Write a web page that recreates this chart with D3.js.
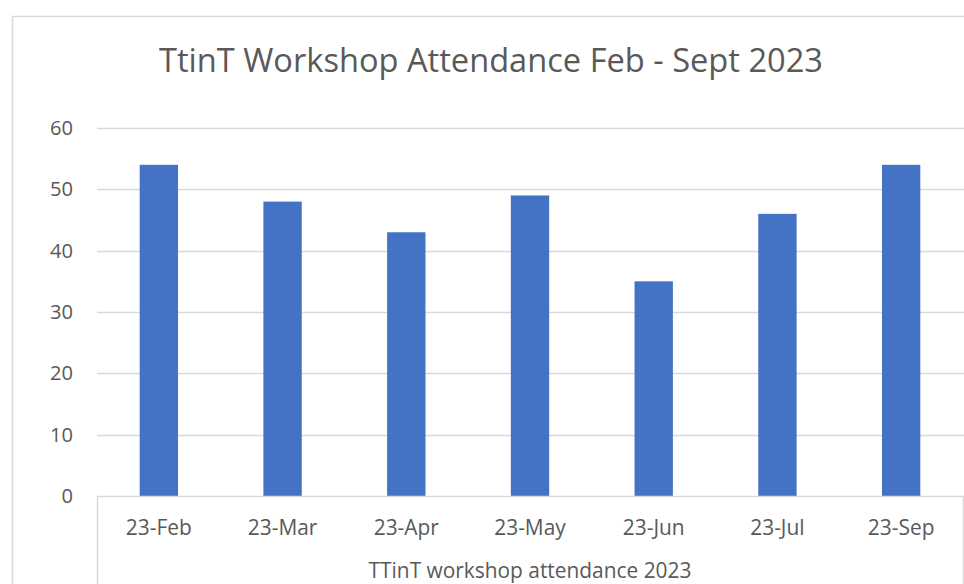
<!DOCTYPE html>
<html lang="en">
<head>
<meta charset="UTF-8">
<title>TtinT Workshop Attendance</title>
<style>
  html, body { margin: 0; padding: 0; background: #fff; }
  svg { display: block; }
  text { font-family: "Open Sans", "Noto Sans", sans-serif; fill: #595959; }
</style>
<script src="https://cdn.jsdelivr.net/npm/d3@7"></script>
</head>
<body>
<div id="chart"></div>
<script>
// data
var months = ["23-Feb", "23-Mar", "23-Apr", "23-May", "23-Jun", "23-Jul", "23-Sep"];
var attendance = [54, 48, 43, 49, 35, 46, 54];
var yTicks = [0, 10, 20, 30, 40, 50, 60];
var title = "TtinT Workshop Attendance Feb - Sept 2023";
var groupLabel = "TTinT workshop attendance 2023";

var w = 964, h = 584;
var plotLeft = 97, plotRight = 963, plotTop = 128, plotBottom = 496;
var grey = "#d9d9d9";

var svg = d3.select("#chart").append("svg")
    .attr("width", w)
    .attr("height", h);

// chart area border (cut off at right and bottom)
svg.append("path")
    .attr("d", "M12.5," + h + " V16.5 H" + w)
    .attr("fill", "none")
    .attr("stroke", grey)
    .attr("stroke-width", 1.5);

var x = d3.scaleBand()
    .domain(months)
    .range([plotLeft, plotRight])
    .paddingInner(0.69)
    .paddingOuter(0.345);

var y = d3.scaleLinear()
    .domain([0, 60])
    .range([plotBottom, plotTop]);

// shrink or grow a text until it spans the wanted width
function fit(sel, width) {
    var node = sel.node();
    var fs = parseFloat(sel.attr("font-size"));
    var len = node.getComputedTextLength();
    if (len > 0) sel.attr("font-size", (fs * width / len).toFixed(2));
}

// gridlines
svg.append("g")
    .selectAll("line")
    .data(yTicks.filter(function(d){ return d > 0; }))
    .enter().append("line")
    .attr("x1", plotLeft)
    .attr("x2", w)
    .attr("y1", function(d){ return Math.round(y(d)) + 0.5; })
    .attr("y2", function(d){ return Math.round(y(d)) + 0.5; })
    .attr("stroke", grey)
    .attr("stroke-width", 1.5);

// y tick labels
var yl = svg.append("g")
    .selectAll("text")
    .data(yTicks)
    .enter().append("text")
    .attr("x", 73)
    .attr("y", function(d){ return y(d); })
    .attr("dy", "0.35em")
    .attr("text-anchor", "end")
    .attr("font-size", 19)
    .text(function(d){ return d; });

// bars
svg.append("g")
    .selectAll("rect")
    .data(attendance)
    .enter().append("rect")
    .attr("x", function(d, i){ return x(months[i]); })
    .attr("width", x.bandwidth())
    .attr("y", function(d){ return y(d); })
    .attr("height", function(d){ return plotBottom - y(d); })
    .attr("fill", "#4472c4");

// axis box (multi-level category axis)
svg.append("path")
    .attr("d", "M" + (plotLeft + 0.5) + "," + h + " V" + (plotBottom + 0.5) + " H" + (plotRight + 0.5) + " V" + h)
    .attr("fill", "none")
    .attr("stroke", grey)
    .attr("stroke-width", 1.5);

// category labels
var cl = svg.append("g")
    .selectAll("text")
    .data(months)
    .enter().append("text")
    .attr("x", function(d){ return x(d) + x.bandwidth() / 2; })
    .attr("y", 535)
    .attr("text-anchor", "middle")
    .attr("font-size", 19)
    .text(function(d){ return d; });

// group label
var gl = svg.append("text")
    .attr("x", (plotLeft + plotRight) / 2)
    .attr("y", 578)
    .attr("text-anchor", "middle")
    .attr("font-size", 19)
    .text(groupLabel);

// title
var tt = svg.append("text")
    .attr("x", 491)
    .attr("y", 72)
    .attr("text-anchor", "middle")
    .attr("font-size", 32)
    .text(title);

fit(tt, 664);
fit(gl, 323);
fit(d3.select(cl.nodes()[0]), 66);
cl.attr("font-size", d3.select(cl.nodes()[0]).attr("font-size"));
fit(d3.select(yl.nodes()[6]), 23);
yl.attr("font-size", d3.select(yl.nodes()[6]).attr("font-size"));
</script>
</body>
</html>
